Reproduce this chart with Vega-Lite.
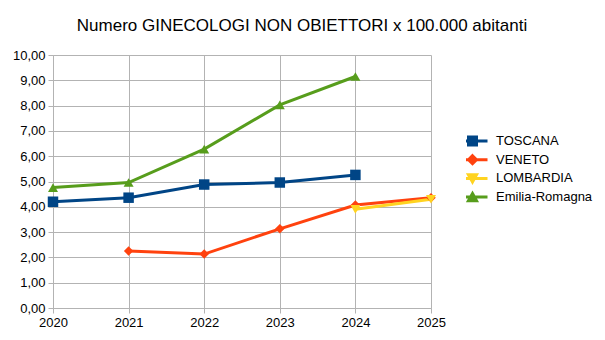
{
  "$schema": "https://vega.github.io/schema/vega-lite/v6.json",
  "width": 378,
  "height": 253,
  "autosize": {"type": "none"},
  "padding": {"left": 53, "top": 55, "right": 174, "bottom": 32},
  "background": "white",
  "config": {
    "locale": {
      "number": {"decimal": ",", "thousands": ".", "grouping": [3], "currency": ["", " €"]}
    },
    "font": "Liberation Sans",
    "view": {"stroke": null}
  },
  "title": {
    "text": "Numero GINECOLOGI NON OBIETTORI x 100.000 abitanti",
    "font": "Liberation Sans",
    "fontSize": 17,
    "fontWeight": "normal",
    "color": "#000000",
    "anchor": "middle",
    "dx": 60,
    "offset": 14
  },
  "data": {
    "values": [
      {"anno": 2020, "regione": "TOSCANA", "valore": 4.20},
      {"anno": 2021, "regione": "TOSCANA", "valore": 4.36},
      {"anno": 2022, "regione": "TOSCANA", "valore": 4.88},
      {"anno": 2023, "regione": "TOSCANA", "valore": 4.96},
      {"anno": 2024, "regione": "TOSCANA", "valore": 5.26},
      {"anno": 2021, "regione": "VENETO", "valore": 2.25},
      {"anno": 2022, "regione": "VENETO", "valore": 2.13},
      {"anno": 2023, "regione": "VENETO", "valore": 3.13},
      {"anno": 2024, "regione": "VENETO", "valore": 4.07},
      {"anno": 2025, "regione": "VENETO", "valore": 4.36},
      {"anno": 2024, "regione": "LOMBARDIA", "valore": 3.90},
      {"anno": 2025, "regione": "LOMBARDIA", "valore": 4.30},
      {"anno": 2020, "regione": "Emilia-Romagna", "valore": 4.76},
      {"anno": 2021, "regione": "Emilia-Romagna", "valore": 4.96},
      {"anno": 2022, "regione": "Emilia-Romagna", "valore": 6.28},
      {"anno": 2023, "regione": "Emilia-Romagna", "valore": 8.03},
      {"anno": 2024, "regione": "Emilia-Romagna", "valore": 9.15}
    ]
  },
  "encoding": {
    "x": {
      "field": "anno",
      "type": "quantitative",
      "title": null,
      "scale": {"domain": [2020, 2025], "nice": false, "zero": false},
      "axis": {
        "values": [2020, 2021, 2022, 2023, 2024, 2025],
        "format": "d",
        "labelFlush": false,
        "labelFont": "Liberation Sans",
        "labelFontSize": 13,
        "labelColor": "#000000",
        "labelPadding": 3,
        "gridColor": "#b3b3b3",
        "domainColor": "#b3b3b3",
        "tickColor": "#b3b3b3",
        "tickSize": 5
      }
    },
    "y": {
      "field": "valore",
      "type": "quantitative",
      "title": null,
      "scale": {"domain": [0, 10], "nice": false},
      "axis": {
        "values": [0, 1, 2, 3, 4, 5, 6, 7, 8, 9, 10],
        "format": ",.2f",
        "labelFlush": false,
        "labelFont": "Liberation Sans",
        "labelFontSize": 13,
        "labelColor": "#000000",
        "labelPadding": 3,
        "gridColor": "#b3b3b3",
        "domainColor": "#b3b3b3",
        "tickColor": "#b3b3b3",
        "tickSize": 5
      }
    },
    "color": {
      "field": "regione",
      "type": "nominal",
      "scale": {
        "domain": ["TOSCANA", "VENETO", "LOMBARDIA", "Emilia-Romagna"],
        "range": ["#004586", "#ff420e", "#ffd320", "#579d1c"]
      },
      "legend": {
        "title": null,
        "orient": "none",
        "legendX": 413,
        "legendY": 79,
        "labelFont": "Liberation Sans",
        "labelFontSize": 13,
        "labelColor": "#000000",
        "symbolSize": 64,
        "symbolStrokeWidth": 3,
        "labelOffset": 17,
        "clipHeight": 14,
        "rowPadding": 4.7,
        "padding": 0,
        "encode": {
          "symbols": {
            "update": {
              "shape": {
                "signal": "datum.value === 'TOSCANA' ? 'M-3.75,0H3.75M-1,-1H1V1H-1Z' : datum.value === 'VENETO' ? 'M-3.75,0H3.75M0,-1L1,0L0,1L-1,0Z' : datum.value === 'LOMBARDIA' ? 'M-3.75,0H3.75M-1,-0.9H1L0,0.9Z' : 'M-3.75,0H3.75M0,-0.9L1,0.9H-1Z'"
              },
              "size": {"value": 64},
              "strokeWidth": {"value": 3}
            }
          }
        }
      }
    }
  },
  "layer": [
    {
      "mark": {"type": "line", "strokeWidth": 3}
    },
    {
      "transform": [{"filter": "datum.regione === 'TOSCANA'"}],
      "mark": {"type": "point", "shape": "square", "filled": true, "opacity": 1, "size": 110}
    },
    {
      "transform": [{"filter": "datum.regione === 'VENETO'"}],
      "mark": {"type": "point", "shape": "diamond", "filled": true, "opacity": 1, "size": 90}
    },
    {
      "transform": [{"filter": "datum.regione === 'LOMBARDIA'"}],
      "mark": {"type": "point", "shape": "triangle-down", "filled": true, "opacity": 1, "size": 100}
    },
    {
      "transform": [{"filter": "datum.regione === 'Emilia-Romagna'"}],
      "mark": {"type": "point", "shape": "triangle-up", "filled": true, "opacity": 1, "size": 100}
    }
  ]
}
